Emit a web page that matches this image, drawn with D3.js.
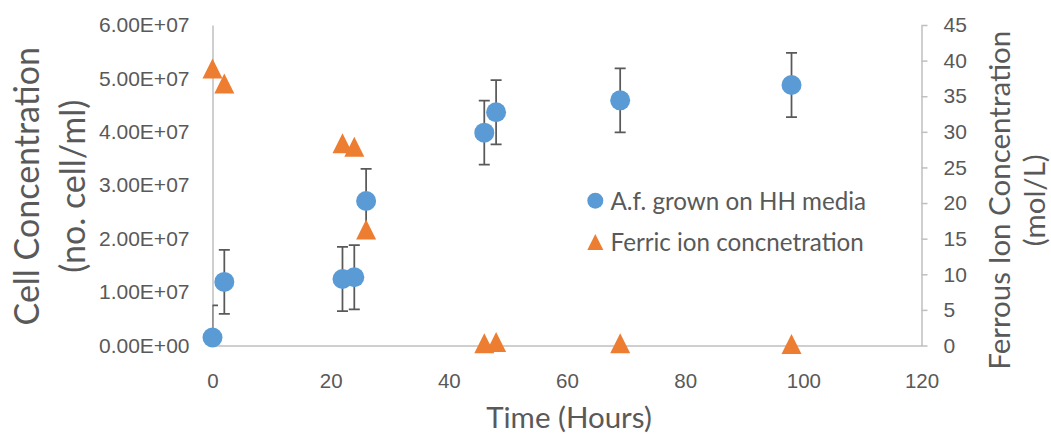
<!DOCTYPE html>
<html>
<head>
<meta charset="utf-8">
<script src="https://cdn.jsdelivr.net/npm/d3@7"></script>
<style>
  html, body { margin: 0; padding: 0; background: #ffffff; }
  svg { display: block; font-family: Lato, "Open Sans", sans-serif; }
</style>
</head>
<body>
<svg id="chart" width="1051" height="435"></svg>
<script>
// Sampling times (hours)
const hours = [0, 2, 22, 24, 26, 46, 48, 69, 98];
// Cell concentration (cells/ml) and its error (fixed value)
const cellConc = [1.5e6, 1.19e7, 1.245e7, 1.277e7, 2.705e7, 3.984e7, 4.366e7, 4.59e7, 4.877e7];
const cellErr = [6e6, 6e6, 6e6, 6e6, 6e6, 6e6, 6e6, 6e6, 6e6];
// Iron concentration (mol/L), right axis
const ironConc = [38.9, 36.8, 28.4, 27.9, 16.3, 0.3, 0.5, 0.3, 0.2];

const xTicks = [0, 20, 40, 60, 80, 100, 120];
const leftTicks = [0, 1e7, 2e7, 3e7, 4e7, 5e7, 6e7];
const rightTicks = [0, 5, 10, 15, 20, 25, 30, 35, 40, 45];

const seriesNames = ["A.f. grown on HH media", "Ferric ion concnetration"];
const xTitle = "Time (Hours)";
const leftTitle = ["Cell Concentration", "(no. cell/ml)"];
const rightTitle = ["Ferrous Ion Concentration", "(mol/L)"];

const blue = "#5b9bd5", orange = "#ed7d31", textCol = "#595959", axisCol = "#bfbfbf";

const plot = { left: 212.5, right: 921.5, top: 25, bottom: 345.5 };
const svg = d3.select("#chart");

const x = d3.scaleLinear().domain([0, 120]).range([plot.left, plot.right]);
const yL = d3.scaleLinear().domain([0, 6e7]).range([plot.bottom, plot.top]);
const yR = d3.scaleLinear().domain([0, 45]).range([plot.bottom, plot.top]);

// "6.00E+07" style labels
const sci = v => {
  const [m, e] = v.toExponential(2).split("e");
  const n = parseInt(e, 10);
  return m + "E" + (n < 0 ? "-" : "+") + String(Math.abs(n)).padStart(2, "0");
};

function styleAxis(g, size) {
  g.select(".domain").attr("stroke", axisCol).attr("stroke-width", 1.5);
  g.selectAll(".tick line").attr("stroke", axisCol).attr("stroke-width", 1.5);
  g.selectAll(".tick text").attr("fill", textCol).style("font-size", size + "px").attr("font-family", null);
}

// bottom axis
svg.append("g")
  .attr("transform", `translate(0,${plot.bottom})`)
  .call(d3.axisBottom(x).tickValues(xTicks).tickSize(0).tickPadding(28))
  .call(g => styleAxis(g, 20.5));

// left axis
svg.append("g")
  .attr("transform", `translate(${plot.left},0)`)
  .call(d3.axisLeft(yL).tickValues(leftTicks).tickFormat(sci).tickSize(0).tickPadding(23))
  .call(g => styleAxis(g, 21));

// right axis
svg.append("g")
  .attr("transform", `translate(${plot.right},0)`)
  .call(d3.axisRight(yR).tickValues(rightTicks).tickSizeInner(6).tickSizeOuter(0).tickPadding(16))
  .call(g => styleAxis(g, 21));

// axis titles
svg.append("text")
  .attr("x", (plot.left + plot.right) / 2 + 2).attr("y", 428)
  .attr("text-anchor", "middle").attr("fill", textCol).style("font-size", "29.5px")
  .text(xTitle);

const lt = svg.append("g").attr("transform", `translate(0,${(plot.top + plot.bottom) / 2 + 1}) rotate(-90)`);
leftTitle.forEach((t, i) => {
  lt.append("text").attr("x", 0).attr("y", 25 + i * 46)
    .attr("text-anchor", "middle").attr("dominant-baseline", "central")
    .attr("fill", textCol).style("font-size", "34px").text(t);
});

const rt = svg.append("g").attr("transform", `translate(0,${(plot.top + plot.bottom) / 2 + 15}) rotate(-90)`);
rightTitle.forEach((t, i) => {
  rt.append("text").attr("x", 0).attr("y", 998 + i * 35)
    .attr("text-anchor", "middle").attr("dominant-baseline", "central")
    .attr("fill", textCol).style("font-size", "29.5px").text(t);
});

// clip region for error bars
svg.append("clipPath").attr("id", "plotClip")
  .append("rect").attr("x", plot.left).attr("y", plot.top - 10)
  .attr("width", plot.right - plot.left).attr("height", plot.bottom - plot.top + 10);

const cells = hours.map((h, i) => ({ h, v: cellConc[i], e: cellErr[i] }));
const iron = hours.map((h, i) => ({ h, v: ironConc[i] }));

// error bars
const eb = svg.append("g").attr("clip-path", "url(#plotClip)")
  .attr("stroke", "#595959").attr("stroke-width", 1.75).attr("fill", "none");
const cap = 5.5;
cells.forEach(d => {
  const cx = x(d.h), y1 = yL(Math.max(0, d.v - d.e)), y2 = yL(d.v + d.e);
  eb.append("line").attr("x1", cx).attr("x2", cx).attr("y1", y1).attr("y2", y2);
  eb.append("line").attr("x1", cx - cap).attr("x2", cx + cap).attr("y1", y2).attr("y2", y2);
  if (d.v - d.e > 0) eb.append("line").attr("x1", cx - cap).attr("x2", cx + cap).attr("y1", y1).attr("y2", y1);
});

// cell concentration markers
svg.append("g").selectAll("circle").data(cells).join("circle")
  .attr("cx", d => x(d.h)).attr("cy", d => yL(d.v)).attr("r", 10).attr("fill", blue);

// iron markers (triangles)
const tri = s => `M0,${-s}L${s},${s}L${-s},${s}Z`;
svg.append("g").selectAll("path").data(iron).join("path")
  .attr("transform", d => `translate(${x(d.h)},${yR(d.v)})`)
  .attr("d", tri(10)).attr("fill", orange);

// legend
const lg = svg.append("g");
lg.append("circle").attr("cx", 595.3).attr("cy", 200.7).attr("r", 8).attr("fill", blue);
lg.append("path").attr("transform", "translate(595.3,242)").attr("d", tri(8)).attr("fill", orange);
[200.7, 241.7].forEach((cy, i) => {
  lg.append("text").attr("x", 610.5).attr("y", cy)
    .attr("dominant-baseline", "central").attr("fill", textCol)
    .style("font-size", "24.2px").text(seriesNames[i]);
});
</script>
</body>
</html>
